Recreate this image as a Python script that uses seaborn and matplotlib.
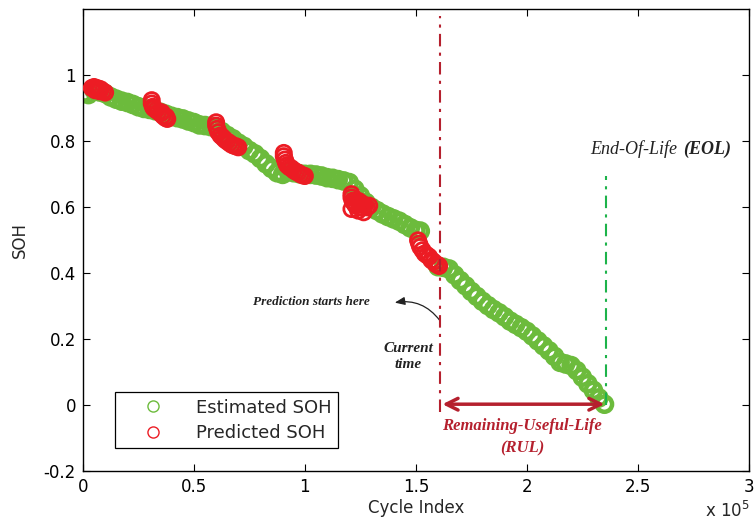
import matplotlib
matplotlib.use("Agg")
import matplotlib.pyplot as plt
import seaborn as sns
from matplotlib.lines import Line2D

# estimated SOH (cycle index in units of 1e5)
est_x = [0.00, 0.025, 0.05, 0.075, 0.10, 0.125, 0.15, 0.175, 0.20, 0.225,
         0.25, 0.275, 0.30, 0.325, 0.35, 0.375, 0.40, 0.425, 0.45, 0.475,
         0.50, 0.525, 0.55, 0.575, 0.60, 0.625, 0.65, 0.675, 0.70, 0.725,
         0.75, 0.775, 0.80, 0.825, 0.85, 0.875, 0.90, 0.925, 0.95, 0.975,
         1.00, 1.025, 1.05, 1.075, 1.10, 1.125, 1.15, 1.175, 1.20, 1.225,
         1.25, 1.275, 1.30, 1.325, 1.35, 1.375, 1.40, 1.425, 1.45, 1.475,
         1.50, 1.52,
         1.60, 1.625, 1.65, 1.675, 1.70, 1.725, 1.75, 1.775, 1.80, 1.825,
         1.85, 1.875, 1.90, 1.925, 1.95, 1.975, 2.00, 2.025, 2.05, 2.075,
         2.10, 2.125, 2.15, 2.175, 2.20, 2.225, 2.25, 2.275, 2.30, 2.325, 2.35]
est_y = [0.945, 0.942, 0.955, 0.950, 0.945, 0.935, 0.928, 0.922, 0.918, 0.912,
         0.905, 0.900, 0.897, 0.893, 0.888, 0.882, 0.876, 0.872, 0.868, 0.862,
         0.857, 0.850, 0.848, 0.845, 0.840, 0.830, 0.818, 0.808, 0.795, 0.785,
         0.772, 0.762, 0.748, 0.732, 0.718, 0.705, 0.700, 0.708, 0.705, 0.702,
         0.700, 0.700, 0.698, 0.695, 0.690, 0.688, 0.684, 0.680, 0.675, 0.655,
         0.635, 0.615, 0.600, 0.590, 0.580, 0.572, 0.565, 0.558, 0.548, 0.538,
         0.530, 0.528,
         0.420, 0.418, 0.413, 0.395, 0.378, 0.362, 0.345, 0.330, 0.315, 0.302,
         0.290, 0.280, 0.268, 0.255, 0.245, 0.235, 0.224, 0.210, 0.195, 0.180,
         0.165, 0.148, 0.130, 0.125, 0.120, 0.105, 0.085, 0.065, 0.045, 0.022, 0.003]

# predicted SOH clusters
pred_x = [0.04, 0.05, 0.06, 0.07, 0.08, 0.09, 0.10, 0.055, 0.075,
          0.31, 0.31, 0.315, 0.32, 0.33, 0.34, 0.35, 0.36, 0.37, 0.38, 0.375, 0.355,
          0.60, 0.60, 0.605, 0.61, 0.62, 0.63, 0.64, 0.65, 0.66, 0.67, 0.68, 0.69, 0.70,
          0.905, 0.905, 0.91, 0.915, 0.92, 0.93, 0.94, 0.95, 0.96, 0.97, 0.98, 0.99, 1.00,
          1.21, 1.21, 1.215, 1.22, 1.225, 1.23, 1.24, 1.25, 1.26, 1.27, 1.28, 1.29,
          1.21, 1.24, 1.265, 1.25,
          1.51, 1.515, 1.52, 1.53, 1.54, 1.55, 1.56, 1.57, 1.58, 1.59, 1.60, 1.605]
pred_y = [0.962, 0.965, 0.962, 0.960, 0.958, 0.952, 0.948, 0.955, 0.952,
          0.925, 0.915, 0.905, 0.900, 0.895, 0.890, 0.885, 0.878, 0.872, 0.868, 0.875, 0.888,
          0.858, 0.848, 0.838, 0.828, 0.818, 0.812, 0.805, 0.800, 0.795, 0.790, 0.787, 0.785, 0.782,
          0.765, 0.755, 0.745, 0.735, 0.728, 0.722, 0.718, 0.712, 0.708, 0.705, 0.700, 0.697, 0.695,
          0.640, 0.630, 0.620, 0.615, 0.610, 0.605, 0.620, 0.615, 0.610, 0.605, 0.600, 0.605,
          0.595, 0.590, 0.585, 0.600,
          0.500, 0.490, 0.480, 0.470, 0.460, 0.455, 0.450, 0.440, 0.435, 0.428, 0.425, 0.422]

current_time = 1.61
eol_time = 2.356

x_ticks = [0, 0.5, 1, 1.5, 2, 2.5, 3]
x_tick_labels = ["0", "0.5", "1", "1.5", "2", "2.5", "3"]
y_ticks = [-0.2, 0, 0.2, 0.4, 0.6, 0.8, 1]
y_tick_labels = ["-0.2", "0", "0.2", "0.4", "0.6", "0.8", "1"]

GREEN = "#6cbb3c"
RED = "#ec1c24"
DARKRED = "#b5202e"
EOLGREEN = "#1db34a"

sns.set_style("ticks")
plt.rcParams["font.family"] = ["DejaVu Sans"]
plt.rcParams["font.size"] = 12

fig = plt.figure(figsize=(7.54, 5.27), dpi=100)
ax = fig.add_axes([0.110, 0.106, 0.883, 0.876])

sns.scatterplot(x=est_x, y=est_y, ax=ax, s=120, marker="o", zorder=2)
pts = ax.collections[-1]
pts.set_facecolor("none")
pts.set_edgecolor(GREEN)
pts.set_linewidth(3.2)

sns.scatterplot(x=pred_x, y=pred_y, ax=ax, s=120, marker="o", zorder=3)
pts = ax.collections[-1]
pts.set_facecolor("none")
pts.set_edgecolor(RED)
pts.set_linewidth(2.0)

# current time / end of life markers
ax.plot([current_time, current_time], [-0.02, 1.18], color=DARKRED, lw=1.5,
        dashes=(6, 3, 1.5, 3), zorder=4)
ax.plot([eol_time, eol_time], [0.0, 0.695], color=EOLGREEN, lw=1.5,
        dashes=(6, 3, 1.5, 3), zorder=4)

ax.annotate("", xy=(1.62, 0.003), xytext=(2.35, 0.003),
            arrowprops=dict(arrowstyle="<->,head_length=0.7,head_width=0.35",
                            color=DARKRED, lw=2.5, shrinkA=0, shrinkB=0), zorder=5)
ax.annotate("", xy=(1.405, 0.311), xytext=(1.608, 0.257),
            arrowprops=dict(arrowstyle="-|>,head_length=0.5,head_width=0.2",
                            color="#222222", lw=0.9, connectionstyle="arc3,rad=0.3",
                            shrinkA=0, shrinkB=0))

serif = ["Liberation Serif", "DejaVu Serif"]
ax.text(1.03, 0.314, "Prediction starts here", fontsize=9.5, family=serif,
        style="italic", weight="bold", ha="center", va="center", color="#222222")
ax.text(1.465, 0.148, "Current\ntime", fontsize=11, family=serif, style="italic",
        weight="bold", ha="center", va="center", color="#222222", linespacing=1.3)
ax.text(1.98, -0.064, "Remaining-Useful-Life", fontsize=12, family=serif,
        style="italic", weight="bold", ha="center", va="center", color=DARKRED)
ax.text(1.98, -0.132, "(RUL)", fontsize=12, family=serif,
        style="italic", weight="bold", ha="center", va="center", color=DARKRED)
ax.text(2.284, 0.776, "End-Of-Life", fontsize=13, family=serif,
        style="italic", ha="left", va="center", color="#222222")
ax.text(2.705, 0.776, "(EOL)", fontsize=13, family=serif,
        style="italic", weight="bold", ha="left", va="center", color="#222222")

ax.set_xlim(0, 3)
ax.set_ylim(-0.2, 1.2)
ax.set_xticks(x_ticks)
ax.set_xticklabels(x_tick_labels)
ax.set_yticks(y_ticks)
ax.set_yticklabels(y_tick_labels)
ax.tick_params(direction="in", length=5, width=0.8, top=True, right=True,
               labelsize=12, colors="black", pad=5)
for sp in ax.spines.values():
    sp.set_visible(True)
    sp.set_color("black")
    sp.set_linewidth(1.0)

ax.set_xlabel("Cycle Index", fontsize=12, labelpad=2)
ax.set_ylabel("SOH", fontsize=12, labelpad=11)
fig.text(0.995, 0.012, r"x 10$^5$", fontsize=12, ha="right", va="bottom")

handles = [
    Line2D([], [], ls="", marker="o", mfc="none", mec=GREEN, ms=8, mew=1),
    Line2D([], [], ls="", marker="o", mfc="none", mec=RED, ms=8, mew=1),
]
leg = ax.legend(handles, ["Estimated SOH", "Predicted SOH"], loc="upper left",
                bbox_to_anchor=(0.035, 0.19), fontsize=13, fancybox=False,
                edgecolor="black", framealpha=1, handlelength=3.5,
                handletextpad=0.6, borderpad=0.35, labelspacing=0.4)
leg.get_frame().set_linewidth(0.9)

fig.savefig("out.png", dpi=100)
